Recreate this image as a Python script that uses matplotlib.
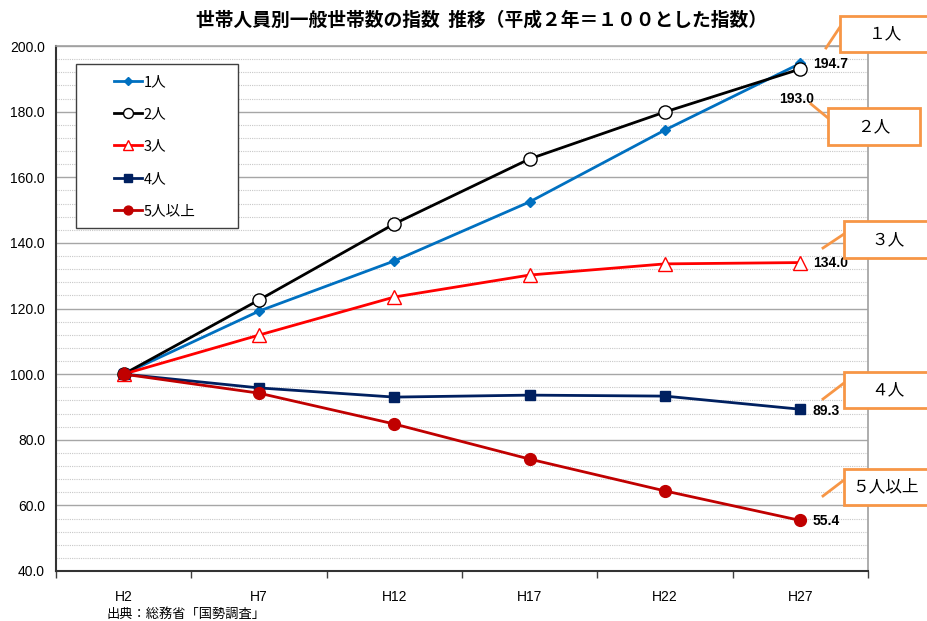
import matplotlib
matplotlib.use("Agg")
import matplotlib.pyplot as plt
from matplotlib.patches import Rectangle
from matplotlib.lines import Line2D
from matplotlib.ticker import MultipleLocator, FixedLocator, NullFormatter

plt.rcParams['font.family'] = ['Noto Sans CJK JP', 'DejaVu Sans']

# 国勢調査年（平成）
years = ["H2", "H7", "H12", "H17", "H22", "H27"]

# 世帯人員別一般世帯数の指数（平成2年＝100）
one_person = [100.0, 119.2, 134.5, 152.5, 174.4, 194.7]
two_person = [100.0, 122.6, 145.8, 165.6, 179.9, 193.0]
three_person = [100.0, 111.9, 123.5, 130.2, 133.6, 134.0]
four_person = [100.0, 95.8, 93.0, 93.6, 93.3, 89.3]
five_plus = [100.0, 94.2, 84.8, 74.1, 64.4, 55.4]

series_names = ["1人", "2人", "3人", "4人", "5人以上"]
callout_names = ["１人", "２人", "３人", "４人", "５人以上"]

y_ticks = [40, 60, 80, 100, 120, 140, 160, 180, 200]

title = "世帯人員別一般世帯数の指数  推移（平成２年＝１００とした指数）"
source = "出典：総務省「国勢調査」"

W, H = 928, 621
fig = plt.figure(figsize=(W / 100, H / 100), dpi=100)

def fx(px):
    return px / W

def fy(py):
    return 1 - py / H

ax = fig.add_axes([fx(56), fy(571), fx(868) - fx(56), fy(46) - fy(571)])

x = list(range(len(years)))
styles = [
    dict(color="#0070C0", marker="D", markersize=5.5, markerfacecolor="#0070C0",
         markeredgecolor="#0070C0"),
    dict(color="#000000", marker="o", markersize=9.5, markerfacecolor="white",
         markeredgecolor="#000000", markeredgewidth=1.0),
    dict(color="#FF0000", marker="^", markersize=9.5, markerfacecolor="white",
         markeredgecolor="#FF0000", markeredgewidth=1.0),
    dict(color="#002060", marker="s", markersize=7, markerfacecolor="#002060",
         markeredgecolor="#002060"),
    dict(color="#C00000", marker="o", markersize=8.5, markerfacecolor="#C00000",
         markeredgecolor="#C00000"),
]
all_series = [one_person, two_person, three_person, four_person, five_plus]

handles = []
for vals, name, st in zip(all_series, series_names, styles):
    ln, = ax.plot(x, vals, linewidth=2.0, label=name, zorder=3, **st)
    handles.append(ln)

ax.set_xlim(-0.5, len(years) - 0.5)
ax.set_ylim(40, 200)

# y axis: major grid every 20, dotted minor grid every 4
ax.yaxis.set_major_locator(FixedLocator(y_ticks))
ax.set_yticklabels([f"{v:.1f}" for v in y_ticks])
ax.yaxis.set_minor_locator(MultipleLocator(4))
ax.grid(axis="y", which="major", color="#A6A6A6", linewidth=1.0, linestyle="-")
ax.grid(axis="y", which="minor", color="#C8C8C8", linewidth=0.8, linestyle=(0, (1, 1)))
ax.tick_params(axis="y", which="both", length=0, pad=8, labelsize=10)
for lab in ax.get_yticklabels():
    lab.set_fontfamily(["Liberation Sans", "DejaVu Sans"])

# x axis: tick marks between categories, labels at category centres
ax.xaxis.set_major_locator(FixedLocator([i - 0.5 for i in range(len(years) + 1)]))
ax.xaxis.set_major_formatter(NullFormatter())
ax.xaxis.set_minor_locator(FixedLocator(x))
ax.set_xticklabels(years, minor=True)
ax.tick_params(axis="x", which="major", length=5, width=1.0, color="#404040", direction="out")
ax.tick_params(axis="x", which="minor", length=0, pad=14, labelsize=10)
for lab in ax.get_xticklabels(minor=True):
    lab.set_fontfamily(["Liberation Sans", "DejaVu Sans"])

for side in ("left", "bottom"):
    ax.spines[side].set_color("#333333")
    ax.spines[side].set_linewidth(1.5)
for side in ("right", "top"):
    ax.spines[side].set_color("#A0A0A0")
    ax.spines[side].set_linewidth(1.2)

# value labels at H27
last = len(years) - 1
label_kw = dict(textcoords="offset pixels", fontsize=10, fontweight="bold",
                fontfamily=["Liberation Sans", "DejaVu Sans"], va="center", zorder=5)
ax.annotate(f"{one_person[-1]:.1f}", (last, one_person[-1]), xytext=(13, -1), ha="left", **label_kw)
ax.annotate(f"{two_person[-1]:.1f}", (last, two_person[-1]), xytext=(-4, -30), ha="center", **label_kw)
ax.annotate(f"{three_person[-1]:.1f}", (last, three_person[-1]), xytext=(13, 0), ha="left", **label_kw)
ax.annotate(f"{four_person[-1]:.1f}", (last, four_person[-1]), xytext=(12, -2), ha="left", **label_kw)
ax.annotate(f"{five_plus[-1]:.1f}", (last, five_plus[-1]), xytext=(12, -1), ha="left", **label_kw)

# legend with a square frame
fig.patches.append(Rectangle((fx(76), fy(228)), fx(238) - fx(76), fy(64) - fy(228),
                             transform=fig.transFigure, facecolor="white",
                             edgecolor="#404040", linewidth=1.0, zorder=4))
leg = fig.legend(handles=handles, loc="center left",
                 bbox_to_anchor=(fx(114), fy(146.5)), frameon=False,
                 fontsize=10.5, handlelength=1.9, handletextpad=0.15,
                 labelspacing=1.26, borderpad=0, borderaxespad=0, numpoints=1,
                 markerscale=0.75)
leg.set_zorder(6)

# title and source
fig.text(fx(482), fy(20), title, ha="center", va="center", fontsize=13.5, fontweight="bold")
fig.text(fx(107), fy(614), source, ha="left", va="center", fontsize=9.5)

# orange callout boxes with leader lines
orange = "#F79646"
callouts = [
    # box (left, top, right, bottom), leader (x0, y0, x1, y1)
    ((840, 16, 935, 52), (826, 48, 840, 27)),
    ((828, 108, 920, 145), (811, 104, 828, 118)),
    ((844, 221, 935, 258), (823, 248, 844, 234)),
    ((844, 372, 935, 408), (823, 399, 844, 383)),
    ((844, 469, 935, 505), (823, 496, 844, 480)),
]
text_centres = [886, 874, 888, 888, 886]
for name, (box, lead), tc in zip(callout_names, callouts, text_centres):
    l, t, r, b = box
    fig.patches.append(Rectangle((fx(l), fy(b)), fx(r) - fx(l), fy(t) - fy(b),
                                 transform=fig.transFigure, facecolor="white",
                                 edgecolor=orange, linewidth=2.0, zorder=7))
    fig.lines.append(Line2D([fx(lead[0]), fx(lead[2])], [fy(lead[1]), fy(lead[3])],
                            transform=fig.transFigure, color=orange, linewidth=2.0, zorder=7))
    fig.text(fx(tc), fy((t + b) / 2), name, ha="center", va="center", fontsize=12, zorder=8)

fig.savefig("out.png", dpi=100)
